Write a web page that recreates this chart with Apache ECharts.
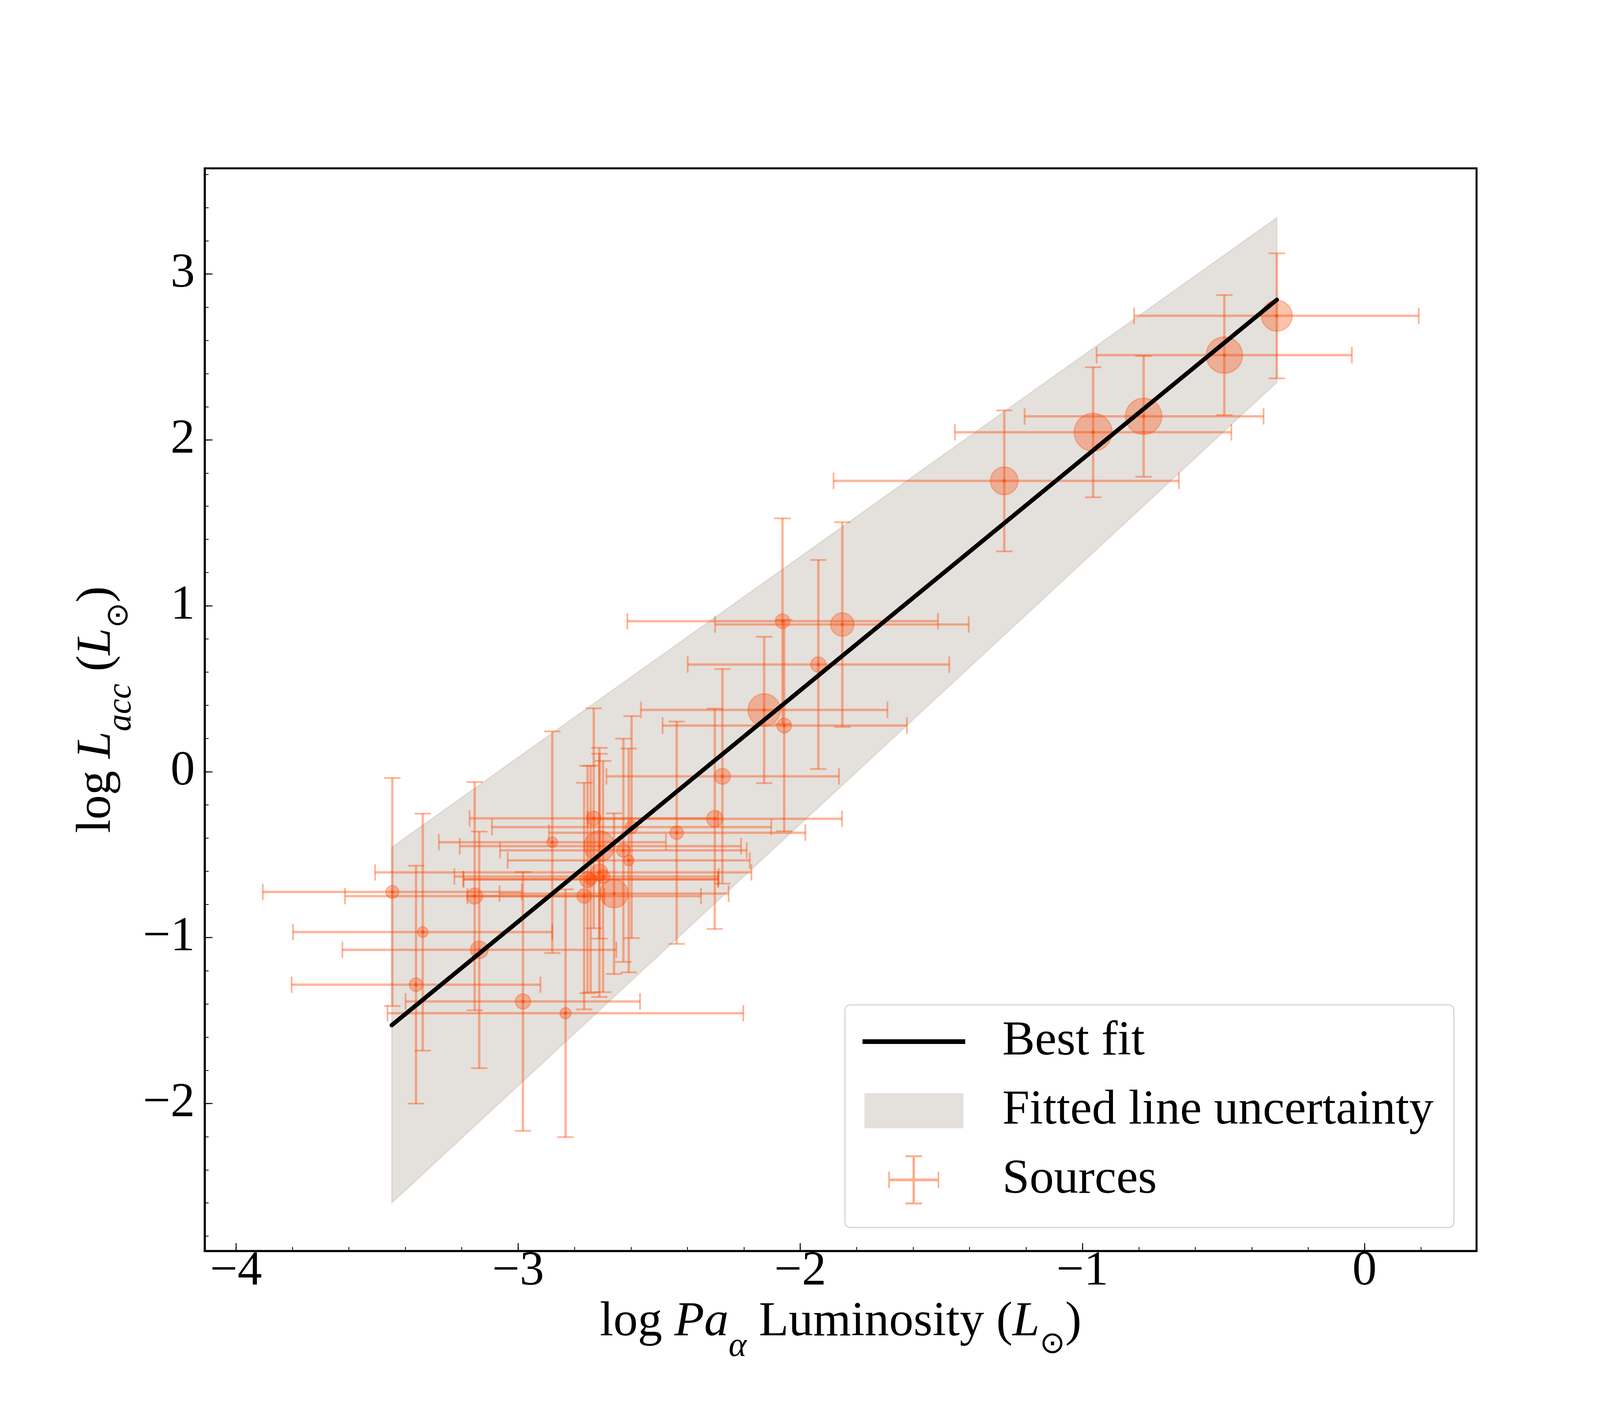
<!DOCTYPE html>
<html lang="en">
<head>
<meta charset="UTF-8">
<title>Pa alpha luminosity vs accretion luminosity</title>
<script src="https://cdn.jsdelivr.net/npm/echarts@6.0.0/dist/echarts.min.js"></script>
<style>
    html, body { margin: 0; padding: 0; background: #ffffff; }
    #main { width: 4200px; height: 3600px; }
</style>
</head>
<body>
<div id="main"></div>
<script type="text/javascript">
    // sources: log Pa_alpha luminosity, log L_acc and their errors
    var srcX = [-3.446, -3.338, -3.362, -3.154, -2.766, -2.660, -2.983, -2.832, -3.138, -2.879,
                -2.732, -2.712, -2.627, -2.608, -2.598, -2.438, -2.303, -2.276, -2.712, -2.699,
                -2.754, -2.743, -2.063, -1.851, -2.057, -1.936, -2.128, -1.277, -0.962, -0.783,
                -0.497, -0.311]
    var srcY = [-0.725, -0.967, -1.284, -0.750, -0.750, -0.735, -1.385, -1.456, -1.074, -0.425,
                -0.281, -0.449, -0.474, -0.535, -0.334, -0.368, -0.284, -0.028, -0.607, -0.632,
                -0.650, -0.647, 0.907, 0.887, 0.278, 0.646, 0.372, 1.753, 2.046, 2.142,
                2.511, 2.748]
    var xErrLo = [0.459, 0.460, 0.441, 0.460, 0.414, 0.406, 0.416, 0.631, 0.485, 0.402,
                  0.440, 0.495, 0.437, 0.429, 0.495, 0.453, 0.451, 0.411, 0.795, 0.527,
                  0.439, 0.452, 0.550, 0.451, 0.431, 0.463, 0.437, 0.605, 0.490, 0.422,
                  0.453, 0.506]
    var xErrHi = [0.459, 0.459, 0.441, 0.460, 0.414, 0.406, 0.415, 0.630, 0.486, 0.403,
                  0.440, 0.502, 0.437, 0.429, 0.495, 0.456, 0.451, 0.413, 0.539, 0.410,
                  0.463, 0.452, 0.551, 0.448, 0.435, 0.464, 0.437, 0.619, 0.490, 0.425,
                  0.452, 0.503]
    var yErr = [0.687, 0.714, 0.717, 0.688, 0.683, 0.484, 0.780, 0.747, 0.713, 0.668,
                0.663, 0.557, 0.673, 0.675, 0.669, 0.670, 0.664, 0.647, 0.751, 0.697,
                0.685, 0.683, 0.620, 0.617, 0.637, 0.630, 0.441, 0.425, 0.392, 0.364,
                0.362, 0.377]
    // relative marker weight of each source
    var srcWeight = [1.80, 1.50, 1.87, 2.20, 2.00, 3.80, 2.10, 1.58, 2.40, 1.50,
                     2.00, 4.10, 1.90, 1.50, 1.80, 1.87, 2.25, 2.20, 2.30, 1.90,
                     2.20, 1.70, 2.00, 3.15, 2.03, 2.10, 4.30, 3.70, 5.00, 4.80,
                     4.80, 4.10]

    // best fit line and its uncertainty band
    var fitX = [-3.448, -0.311]
    var fitY = [-1.528, 2.845]
    var bandX = [-3.448, -0.311]
    var bandUpper = [-0.455, 3.340]
    var bandLower = [-2.600, 2.346]

    // ticks
    var xMajor = [-4, -3, -2, -1, 0]
    var xMinor = [-4.0, -3.8, -3.6, -3.4, -3.2, -3.0, -2.8, -2.6, -2.4, -2.2, -2.0, -1.8, -1.6,
                  -1.4, -1.2, -1.0, -0.8, -0.6, -0.4, -0.2, 0.0, 0.2]
    var yMajor = [-2, -1, 0, 1, 2, 3]
    var yMinor = [-2.8, -2.6, -2.4, -2.2, -2.0, -1.8, -1.6, -1.4, -1.2, -1.0, -0.8, -0.6, -0.4,
                  -0.2, 0.0, 0.2, 0.4, 0.6, 0.8, 1.0, 1.2, 1.4, 1.6, 1.8, 2.0, 2.2, 2.4, 2.6,
                  2.8, 3.0, 3.2, 3.4, 3.6]

    var FONT = "'Liberation Serif', 'Times New Roman', serif"
    var ERR_COLOR = 'rgba(255,69,0,0.4)'
    var DOT_COLOR = 'rgba(255,69,0,0.6)'
    var BAND_FILL = 'rgba(120,100,80,0.2)'
    var BAND_EDGE = 'rgba(120,100,80,0.12)'
    var SIZE_SCALE = 20

    function minusSign(v) {
        return String(v).replace('-', '\u2212')
    }

    var srcData = []
    for (var i = 0; i < srcX.length; i++) {
        srcData.push([srcX[i], srcY[i], xErrLo[i], xErrHi[i], yErr[i], srcWeight[i]])
    }
    var fitData = []
    for (var k = 0; k < fitX.length; k++) {
        fitData.push([fitX[k], fitY[k]])
    }
    var bandData = []
    for (var b = 0; b < bandX.length; b++) {
        bandData.push([bandX[b], bandUpper[b], bandLower[b]])
    }

    function renderBand(params, api) {
        if (params.dataIndex !== 0) return null
        var pts = []
        for (var i = 0; i < bandX.length; i++) pts.push(api.coord([bandX[i], bandUpper[i]]))
        for (var j = bandX.length - 1; j >= 0; j--) pts.push(api.coord([bandX[j], bandLower[j]]))
        return {
            type: 'polygon',
            shape: {points: pts},
            style: {fill: BAND_FILL, stroke: BAND_EDGE, lineWidth: 4}
        }
    }

    function renderErrorBar(params, api) {
        var x = api.value(0), y = api.value(1)
        var pc = api.coord([x, y])
        var pl = api.coord([x - api.value(2), y])
        var pr = api.coord([x + api.value(3), y])
        var pt = api.coord([x, y + api.value(4)])
        var pb = api.coord([x, y - api.value(4)])
        var cap = 21
        var st = {stroke: ERR_COLOR, lineWidth: 6}
        var cs = {stroke: ERR_COLOR, lineWidth: 4.5}
        return {
            type: 'group',
            children: [
                {type: 'line', shape: {x1: pl[0], y1: pl[1], x2: pr[0], y2: pr[1]}, style: st},
                {type: 'line', shape: {x1: pt[0], y1: pt[1], x2: pb[0], y2: pb[1]}, style: st},
                {type: 'line', shape: {x1: pl[0], y1: pl[1] - cap, x2: pl[0], y2: pl[1] + cap}, style: cs},
                {type: 'line', shape: {x1: pr[0], y1: pr[1] - cap, x2: pr[0], y2: pr[1] + cap}, style: cs},
                {type: 'line', shape: {x1: pt[0] - cap, y1: pt[1], x2: pt[0] + cap, y2: pt[1]}, style: cs},
                {type: 'line', shape: {x1: pb[0] - cap, y1: pb[1], x2: pb[0] + cap, y2: pb[1]}, style: cs},
                {type: 'circle', shape: {cx: pc[0], cy: pc[1], r: 4.5}, style: {fill: DOT_COLOR}}
            ]
        }
    }

    var nameRich = {
        n: {fontFamily: FONT, fontSize: 125, lineHeight: 166, verticalAlign: 'top', color: '#000'},
        i: {fontFamily: FONT, fontSize: 125, lineHeight: 166, verticalAlign: 'top', fontStyle: 'italic', color: '#000'},
        s: {fontFamily: FONT, fontSize: 88, lineHeight: 88, verticalAlign: 'top', fontStyle: 'italic',
            padding: [81, 0, 0, 0], color: '#000'},
        o: {fontFamily: "'DejaVu Sans', " + FONT, fontSize: 78, lineHeight: 88, verticalAlign: 'top',
            padding: [81, 0, 0, 0], color: '#000'}
    }

    // legend icons drawn in a 353 x 126 item box (tiny corner squares pin the box size)
    var BOX = 'M0,0h0.01v0.01h-0.01zM352.99,125.99h0.01v0.01h-0.01z'
    var ICON_LINE = 'path://' + BOX + 'M0,57h263v12h-263z'
    var ICON_PATCH = 'path://' + BOX + 'M5,18h253v90h-253z'
    var ICON_ERR = 'path://' + BOX + 'M68,59.5h126v7h-126zM128,0h6v126h-6zM66,42h4v42h-4z' +
        'M192.5,42h4v42h-4zM110,0h42v5h-42zM110,121h42v5h-42z'

    var myChart = echarts.init(document.getElementById('main'), null, {renderer: 'canvas'})

    var option = {
        animation: false,
        backgroundColor: '#ffffff',
        grid: {
            left: 524, right: 420, top: 431, bottom: 397,
            show: true, borderColor: '#000', borderWidth: 5, backgroundColor: 'transparent'
        },
        legend: {
            orient: 'vertical',
            left: 2163, top: 2573,
            itemWidth: 353, itemHeight: 126, itemGap: 51,
            padding: [31, 52, 59, 45],
            backgroundColor: 'rgba(255,255,255,0.8)',
            borderColor: '#d4d4d4', borderWidth: 3, borderRadius: 14,
            selectedMode: false,
            textStyle: {fontFamily: FONT, fontSize: 125, lineHeight: 126, color: '#000'},
            data: [
                {name: 'Best fit', icon: ICON_LINE, itemStyle: {color: '#000', borderWidth: 0}},
                {name: 'Fitted line uncertainty', icon: ICON_PATCH, itemStyle: {color: BAND_FILL, borderWidth: 0}},
                {name: 'Sources', icon: ICON_ERR, itemStyle: {color: 'rgba(255,69,0,0.45)', borderWidth: 0}}
            ]
        },
        xAxis: [{
            type: 'value', min: -4.111, max: 0.397,
            position: 'bottom',
            name: '{n|log }{i|Pa}{s|α}{n| Luminosity (}{i|L}{o|⊙}{n|)}',
            nameLocation: 'middle', nameGap: 106,
            nameTextStyle: {fontFamily: FONT, fontSize: 125, rich: nameRich},
            axisLine: {show: true, onZero: false, lineStyle: {color: '#000', width: 5}},
            axisTick: {show: true, inside: true, length: 20, lineStyle: {color: '#000', width: 2.5},
                customValues: xMajor},
            axisLabel: {show: true, fontFamily: FONT, fontSize: 125, color: '#000', margin: 53,
                verticalAlign: 'middle', customValues: xMajor, formatter: minusSign},
            splitLine: {show: false}
        }, {
            type: 'value', min: -4.111, max: 0.397,
            position: 'bottom',
            axisLine: {show: false, onZero: false},
            axisTick: {show: true, inside: true, length: 10, lineStyle: {color: '#000', width: 2},
                customValues: xMinor},
            axisLabel: {show: false},
            splitLine: {show: false}
        }],
        yAxis: [{
            type: 'value', min: -2.889, max: 3.637,
            position: 'left',
            name: '{n|log }{i|L}{s|acc}{n| (}{i|L}{o|⊙}{n|)}',
            nameLocation: 'middle', nameGap: 161,
            nameTextStyle: {fontFamily: FONT, fontSize: 125, rich: nameRich},
            axisLine: {show: true, onZero: false, lineStyle: {color: '#000', width: 5}},
            axisTick: {show: true, inside: true, length: 20, lineStyle: {color: '#000', width: 2.5},
                customValues: yMajor},
            axisLabel: {show: true, fontFamily: FONT, fontSize: 125, color: '#000', margin: 25,
                customValues: yMajor, formatter: minusSign},
            splitLine: {show: false}
        }, {
            type: 'value', min: -2.889, max: 3.637,
            position: 'left',
            axisLine: {show: false, onZero: false},
            axisTick: {show: true, inside: true, length: 10, lineStyle: {color: '#000', width: 2},
                customValues: yMinor},
            axisLabel: {show: false},
            splitLine: {show: false}
        }],
        series: [{
            name: 'Fitted line uncertainty',
            type: 'custom',
            xAxisIndex: 0, yAxisIndex: 0,
            renderItem: renderBand,
            data: bandData,
            silent: true,
            z: 1
        }, {
            name: 'Sources',
            type: 'custom',
            xAxisIndex: 0, yAxisIndex: 0,
            renderItem: renderErrorBar,
            encode: {x: 0, y: 1},
            data: srcData,
            silent: true,
            z: 2
        }, {
            name: 'source markers',
            type: 'scatter',
            xAxisIndex: 0, yAxisIndex: 0,
            data: srcData,
            symbol: 'circle',
            symbolSize: function (val) {
                return val[5] * SIZE_SCALE - 3
            },
            itemStyle: {color: 'rgba(255,69,0,0.4)', borderColor: 'rgba(255,69,0,0.4)', borderWidth: 3},
            silent: true,
            z: 3
        }, {
            name: 'Best fit',
            type: 'line',
            xAxisIndex: 0, yAxisIndex: 0,
            data: fitData,
            symbol: 'none',
            lineStyle: {color: '#000', width: 11, cap: 'round'},
            silent: true,
            z: 4
        }]
    }

    myChart.setOption(option)
</script>
</body>
</html>
